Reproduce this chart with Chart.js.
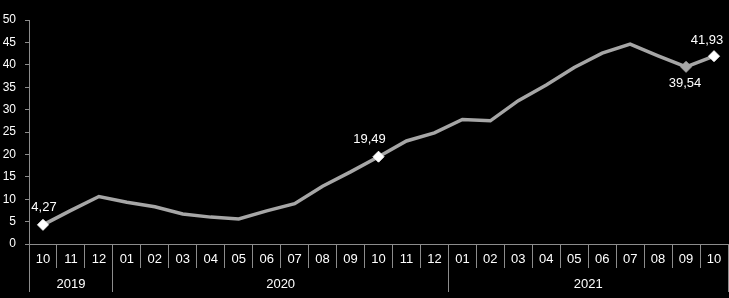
<!DOCTYPE html>
<html>
<head>
<meta charset="utf-8">
<script src="https://cdn.jsdelivr.net/npm/chart.js@4/dist/chart.umd.min.js"></script>
<style>
  html, body { margin: 0; padding: 0; background: #000; }
  #wrap { width: 729px; height: 298px; }
</style>
</head>
<body>
<div id="wrap"><canvas id="c" width="729" height="298"></canvas></div>
<script>
// ---- Data ----
const months = ['10','11','12','01','02','03','04','05','06','07','08','09','10','11','12','01','02','03','04','05','06','07','08','09','10'];
const years = ['2019','2020','2021'];
const yearSpans = [3, 12, 10];
const values = [4.27, 7.5, 10.6, 9.3, 8.3, 6.7, 6.0, 5.6, 7.4, 9.0, 12.9, 16.1, 19.49, 23.0, 24.8, 27.8, 27.5, 32.0, 35.5, 39.4, 42.6, 44.6, 42.0, 39.54, 41.93];
const labelledIdx = [0, 12, 23, 24];
const yTicks = [0, 5, 10, 15, 20, 25, 30, 35, 40, 45, 50];

// ---- Style ----
const FONT = '"Liberation Sans", Arial, sans-serif';
const LINE = '#a6a6a6';
const AXIS = '#8c8c8c';
const TEXT = '#ffffff';

const markerFill = values.map((v, i) => i === 23 ? LINE : (labelledIdx.includes(i) ? '#ffffff' : LINE));
const markerRadius = values.map((v, i) => labelledIdx.includes(i) ? 5.5 : 0);
const labelPlace = { 0: {dy: -17, dx: 1}, 12: {dy: -17, dx: -9}, 23: {dy: 17, dx: -1}, 24: {dy: -16, dx: -7} };

const fmt = v => v.toFixed(2).replace('.', ',');

const decorPlugin = {
  id: 'decor',
  afterDraw(chart) {
    const ctx = chart.ctx;
    const xs = chart.scales.x;
    const axisTop = xs.top;
    const n = months.length;
    const step = xs.getPixelForTick(1) - xs.getPixelForTick(0);
    const align = p => Math.round(p - 0.5) + 0.5;
    const boundary = (i) => {
      if (i <= 0) return xs.getPixelForTick(0) - step / 2;
      if (i >= n) return xs.getPixelForTick(n - 1) + step / 2;
      return (xs.getPixelForTick(i - 1) + xs.getPixelForTick(i)) / 2;
    };
    ctx.save();
    ctx.strokeStyle = AXIS;
    ctx.lineWidth = 1;
    let start = 0;
    const edges = [0];
    yearSpans.forEach(s => { start += s; edges.push(start); });
    edges.forEach(e => {
      let px = align(boundary(e));
      if (px > chart.width) px = chart.width - 0.5;
      ctx.beginPath();
      ctx.moveTo(px, axisTop);
      ctx.lineTo(px, axisTop + 48);
      ctx.stroke();
    });
    ctx.fillStyle = TEXT;
    ctx.font = '13px ' + FONT;
    ctx.textAlign = 'center';
    ctx.textBaseline = 'middle';
    for (let g = 0; g < years.length; g++) {
      const l = boundary(edges[g]);
      const r = boundary(edges[g + 1]);
      ctx.fillText(years[g], (l + r) / 2, axisTop + 40);
    }
    const meta = chart.getDatasetMeta(0);
    labelledIdx.forEach(i => {
      const pt = meta.data[i];
      const p = labelPlace[i];
      ctx.fillText(fmt(values[i]), pt.x + p.dx, pt.y + p.dy);
    });
    ctx.restore();
  }
};

new Chart(document.getElementById('c'), {
  type: 'line',
  data: {
    labels: months,
    datasets: [{
      data: values,
      borderColor: LINE,
      borderWidth: 3.5,
      tension: 0,
      pointStyle: 'rectRot',
      pointRadius: markerRadius,
      pointBackgroundColor: markerFill,
      pointBorderColor: markerFill,
      pointBorderWidth: 1,
      pointHoverRadius: markerRadius,
      clip: false
    }]
  },
  options: {
    responsive: false,
    animation: false,
    events: [],
    layout: { autoPadding: false, padding: { top: 20, right: 1, left: 0, bottom: 0 } },
    plugins: { legend: { display: false }, tooltip: { enabled: false } },
    scales: {
      x: {
        offset: true,
        grid: { display: true, offset: true, drawOnChartArea: false, color: AXIS, tickLength: 24, lineWidth: 1 },
        border: { display: true, color: AXIS, width: 1 },
        ticks: { color: TEXT, font: { family: FONT, size: 13 }, padding: -16, maxRotation: 0, autoSkip: false },
        afterFit(s) { s.height = 54; }
      },
      y: {
        min: 0, max: 50,
        afterBuildTicks(s) { s.ticks = yTicks.map(v => ({ value: v })); },
        grid: { display: true, drawOnChartArea: false, color: AXIS, tickLength: 4 },
        border: { display: true, color: AXIS, width: 1 },
        ticks: { color: TEXT, font: { family: FONT, size: 12 }, padding: 9 },
        afterFit(s) { s.width = 29; }
      }
    }
  },
  plugins: [decorPlugin]
});
</script>
</body>
</html>
